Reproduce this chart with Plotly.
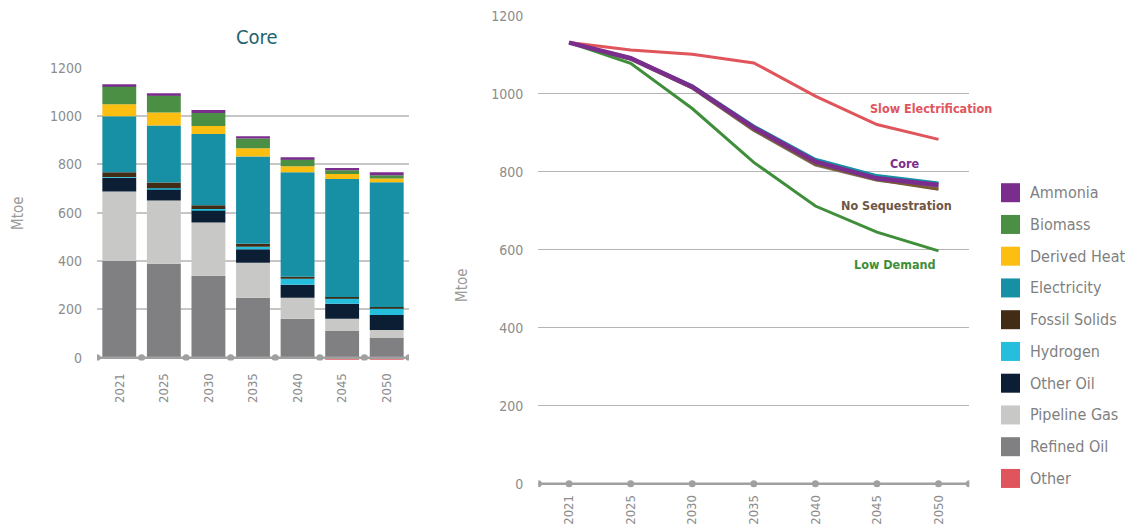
import plotly.graph_objects as go

# ---- data -------------------------------------------------------------
years = ["2021", "2025", "2030", "2035", "2040", "2045", "2050"]

# Core scenario final energy demand by carrier (Mtoe), bottom of stack first
refined_oil = [400, 389, 339, 248, 161, 111, 82]
pipeline_gas = [288, 261, 220, 145, 87, 50, 33]
other_oil = [57, 48, 53, 56, 54, 62, 62]
hydrogen = [3, 3, 3, 10, 25, 25, 29]
fossil_solids = [19, 24, 16, 13, 8, 3, 4]
electricity = [232, 236, 295, 361, 432, 488, 516]
derived_heat = [50, 54, 33, 34, 25, 21, 16]
biomass = [75, 71, 54, 40, 29, 16, 13]
ammonia = [8, 8, 12, 9, 8, 9, 12]
other = [0, 0, 0, 0, 0, -8, -8]

# Total demand by scenario (Mtoe)
slow_electrification = [1131, 1112, 1101, 1079, 994, 921, 883]
core_total = [1131, 1091, 1018, 913, 826, 783, 766]
no_sequestration = [1131, 1089, 1015, 907, 819, 779, 755]
low_demand = [1131, 1078, 962, 824, 712, 645, 597]
variant_high = [1131, 1092, 1020, 917, 832, 790, 771]
variant_low = [1131, 1088, 1014, 906, 817, 778, 760]

# stacking order (bottom first) and colours
carriers = [
    ("Other", other, "#E0555B"),
    ("Refined Oil", refined_oil, "#808083"),
    ("Pipeline Gas", pipeline_gas, "#C8C8C6"),
    ("Other Oil", other_oil, "#0B1E33"),
    ("Hydrogen", hydrogen, "#25BEDC"),
    ("Fossil Solids", fossil_solids, "#432C16"),
    ("Electricity", electricity, "#178FA5"),
    ("Derived Heat", derived_heat, "#FDBE12"),
    ("Biomass", biomass, "#4A8F44"),
    ("Ammonia", ammonia, "#7B2D8E"),
]
legend_order = ["Ammonia", "Biomass", "Derived Heat", "Electricity", "Fossil Solids",
                "Hydrogen", "Other Oil", "Pipeline Gas", "Refined Oil", "Other"]

FONT = "DejaVu Sans Condensed, Liberation Sans Narrow, sans-serif"
W, H = 1125, 529
GRAY = "#8C8C8C"
AXIS_GRAY = "#A0A0A0"

idx = list(range(len(years)))
edges = [i - 0.5 for i in range(len(years) + 1)]
points = [-0.5] + idx + [len(years) - 0.5]

fig = go.Figure()

# ---- left: stacked bars ----------------------------------------------
for name, vals, color in carriers:
    fig.add_trace(go.Bar(
        x=idx, y=vals, name=name, marker=dict(color=color, line=dict(width=0)),
        xaxis="x", yaxis="y",
    ))

# baseline with dots at category boundaries
fig.add_trace(go.Scatter(
    x=edges, y=[0] * len(edges), mode="lines+markers",
    line=dict(color=AXIS_GRAY, width=2.5), marker=dict(color=AXIS_GRAY, size=7),
    xaxis="x", yaxis="y", hoverinfo="skip",
))

# ---- right: scenario lines --------------------------------------------
lines = [
    ("variant_high", variant_high, "#178FA5", 3),
    ("variant_low", variant_low, "#8C8C8C", 3),
    ("Slow Electrification", slow_electrification, "#E0555B", 3),
    ("Low Demand", low_demand, "#3F8E3A", 3),
    ("No Sequestration", no_sequestration, "#7A5A34", 3),
    ("Core", core_total, "#7B2D8E", 4.5),
]
for name, vals, color, width in lines:
    fig.add_trace(go.Scatter(
        x=idx, y=vals, mode="lines", name=name,
        line=dict(color=color, width=width), xaxis="x2", yaxis="y2",
    ))

fig.add_trace(go.Scatter(
    x=points, y=[0] * len(points), mode="lines+markers",
    line=dict(color=AXIS_GRAY, width=2.5), marker=dict(color=AXIS_GRAY, size=7),
    xaxis="x2", yaxis="y2", hoverinfo="skip",
))

ytick_font = dict(family=FONT, size=14, color=GRAY)
xtick_font = dict(family=FONT, size=13, color=GRAY)
yticks = [0, 200, 400, 600, 800, 1000, 1200]

fig.update_layout(
    width=W, height=H,
    margin=dict(l=0, r=0, t=0, b=0),
    paper_bgcolor="white", plot_bgcolor="white",
    barmode="relative", bargap=0.24,
    showlegend=False,
    font=dict(family=FONT, color=GRAY),
    xaxis=dict(
        domain=[97 / W, 409 / W], range=[-0.5, 6.5], automargin=False,
        tickmode="array", tickvals=idx, ticktext=years, tickangle=-90,
        showgrid=False, zeroline=False, showline=False, ticks="",
        tickfont=xtick_font, ticklabelstandoff=9,
    ),
    yaxis=dict(
        domain=[1 - 360.6 / H, 1 - 67.7 / H], range=[-12, 1200], automargin=False,
        tickmode="array", tickvals=yticks,
        showgrid=True, gridcolor="#C6C6C6", gridwidth=2,
        zeroline=False, showline=False, ticks="",
        tickfont=ytick_font, ticklabelstandoff=14,
    ),
    xaxis2=dict(
        domain=[538.3 / W, 969.3 / W], range=[-0.5, 6.5], automargin=False,
        tickmode="array", tickvals=idx, ticktext=years, tickangle=-90,
        showgrid=False, zeroline=False, showline=False, ticks="",
        tickfont=xtick_font, ticklabelstandoff=3, anchor="y2",
    ),
    yaxis2=dict(
        domain=[1 - 488.4 / H, 1 - 15.7 / H], range=[-12, 1200], automargin=False,
        tickmode="array", tickvals=yticks,
        showgrid=True, gridcolor="#B4B4B4", gridwidth=1,
        zeroline=False, showline=False, ticks="",
        tickfont=ytick_font, ticklabelstandoff=14, anchor="x2",
    ),
)

annotations = [
    dict(text="Core", x=257 / W, y=1 - 37 / H, font=dict(size=20, color="#1F6370")),
    dict(text="Mtoe", x=18 / W, y=1 - 213 / H, textangle=-90, font=dict(size=15, color="#9A9A9A")),
    dict(text="Mtoe", x=462 / W, y=1 - 285 / H, textangle=-90, font=dict(size=15, color="#9A9A9A")),
    dict(text="<b>Slow Electrification</b>", x=931 / W, y=1 - 109 / H, font=dict(size=12.5, color="#E0555B")),
    dict(text="<b>Core</b>", x=905 / W, y=1 - 163 / H, font=dict(size=12.5, color="#7B2D8E")),
    dict(text="<b>No Sequestration</b>", x=896 / W, y=1 - 206 / H, font=dict(size=12.5, color="#6E5645")),
    dict(text="<b>Low Demand</b>", x=895 / W, y=1 - 264 / H, font=dict(size=12.5, color="#3F8E3A")),
]
for a in annotations:
    a.update(xanchor="center")

# key: coloured squares with carrier names
colour_of = {name: color for name, _, color in carriers}
shapes = []
row0, row_step, box = 192.7, 31.75, 19
for i, name in enumerate(legend_order):
    cy = row0 + i * row_step
    shapes.append(dict(
        type="rect", xref="paper", yref="paper",
        x0=1001 / W, x1=(1001 + box) / W,
        y0=1 - (cy + box / 2) / H, y1=1 - (cy - box / 2) / H,
        fillcolor=colour_of[name], line=dict(width=0),
    ))
    annotations.append(dict(
        text=name, x=1028 / W, y=1 - cy / H, xanchor="left",
        font=dict(size=16, color="#7F7F7F"),
    ))

for a in annotations:
    a.update(xref="paper", yref="paper", showarrow=False, yanchor="middle")
    a["font"]["family"] = FONT
fig.update_layout(annotations=annotations, shapes=shapes)

fig.write_html("out.html")
